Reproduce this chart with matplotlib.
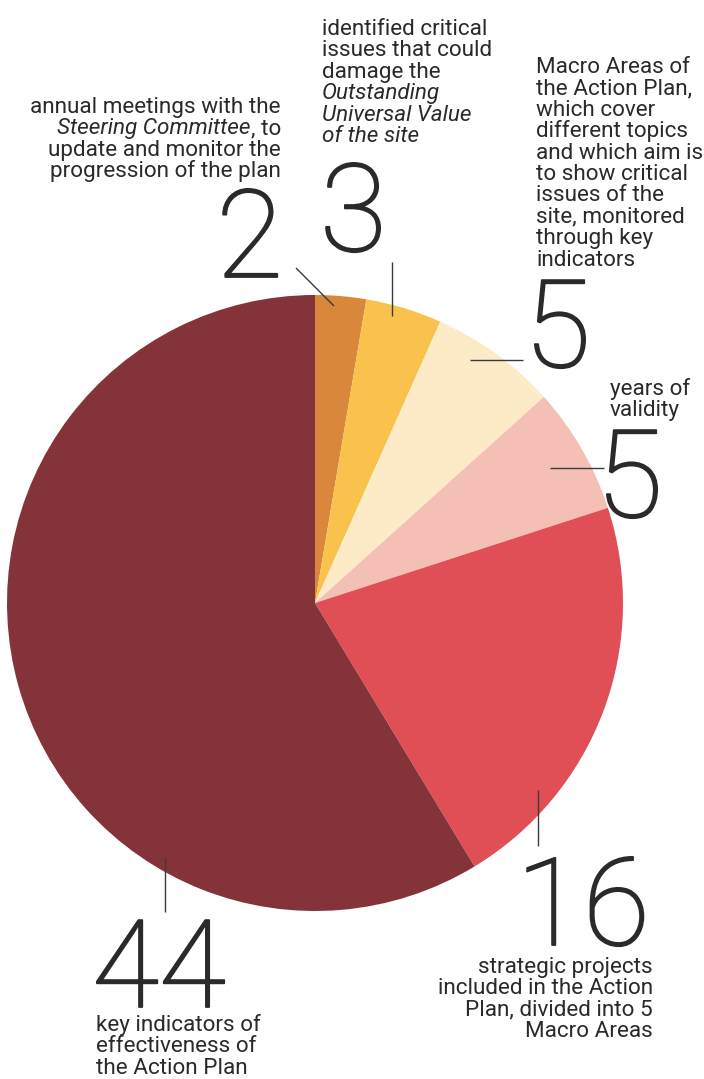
"""Action Plan in numbers: pie of the key figures with big numeric callouts."""
import numpy as np
import matplotlib
matplotlib.use("Agg")
import matplotlib.pyplot as plt
import matplotlib.patheffects as pe

W, H = 704, 1079

# Data
values = [2, 3, 5, 5, 16, 44]
colors = ["#D8873B", "#F8C24D", "#FDEAC6", "#F4BFB5", "#E04F55", "#843439"]

# Each label line is a list of (text, italic) segments.
captions = [
    [[("annual meetings with the", False)],
     [("Steering Committee", True), (", to", False)],
     [("update and monitor the", False)],
     [("progression of the plan", False)]],
    [[("identified critical", False)],
     [("issues that could", False)],
     [("damage the", False)],
     [("Outstanding", True)],
     [("Universal Value", True)],
     [("of the site", True)]],
    [[("Macro Areas of", False)], [("the Action Plan,", False)],
     [("which cover", False)], [("different topics", False)],
     [("and which aim is", False)], [("to show critical", False)],
     [("issues of the", False)], [("site, monitored", False)],
     [("through key", False)], [("indicators", False)]],
    [[("years of", False)], [("validity", False)]],
    [[("strategic projects", False)], [("included in the Action", False)],
     [("Plan, divided into 5", False)], [("Macro Areas", False)]],
    [[("key indicators of", False)], [("effectiveness of", False)],
     [("the Action Plan", False)]],
]

# Layout (pixel coords, y from top)
CX, CY, R = 315, 603, 308
TXT = "#2B2A29"
LINE = "#3A3A3A"
BODY = ["Roboto", "DejaVu Sans"]
NUM = ["Roboto", "DejaVu Sans"]
NUM_SIZE = 88
BODY_SIZE = 16.2
LEAD = 21.4
# number anchor (x, baseline, ha)
num_pos = [(283, 277, "right"), (320, 251, "left"), (524, 367, "left"),
           (596, 517, "left"), (516, 945, "left"), (92, 1007, "left")]
# caption anchor (x, first baseline, ha)
cap_pos = [(281, 113, "right"), (322, 35, "left"), (536, 73, "left"),
           (610, 395, "left"), (653, 973, "right"), (96, 1031, "left")]
# leader lines: (x0, y0, x1, y1)
leaders = [(296, 268, 334, 306), (392, 262, 392, 316), (470, 360, 523, 360),
           (550, 468, 604, 468), (538, 790, 538, 846), (165, 857, 165, 912)]


def Y(y):
    return H - y


fig = plt.figure(figsize=(W / 100, H / 100), dpi=100)
ax = fig.add_axes([0, 0, 1, 1])
ax.pie(values, colors=colors, startangle=90, counterclock=False,
       center=(CX, Y(CY)), radius=R, wedgeprops=dict(linewidth=0))
ax.set_xlim(0, W)
ax.set_ylim(0, H)
ax.set_aspect("equal")
ax.axis("off")

for (x0, y0, x1, y1) in leaders:
    ax.plot([x0, x1], [Y(y0), Y(y1)], color=LINE, lw=1.0, solid_capstyle="butt")

# big numbers: Roboto Light, slightly thickened to match the reference weight
for v, (x, y, ha) in zip(values, num_pos):
    ax.text(x, Y(y), str(v), ha=ha, va="baseline", fontsize=NUM_SIZE,
            family=NUM, fontweight="light", color=TXT,
            path_effects=[pe.withStroke(linewidth=1.3, foreground=TXT)])

fig.canvas.draw()
renderer = fig.canvas.get_renderer()


def seg_width(t):
    bb = t.get_window_extent(renderer=renderer)
    return bb.width


for lines, (x, y0, ha) in zip(captions, cap_pos):
    for i, segs in enumerate(lines):
        yb = Y(y0 + i * LEAD)
        order = segs if ha == "left" else list(reversed(segs))
        cx = x
        for text, ital in order:
            t = ax.text(cx, yb, text, ha=ha, va="baseline", fontsize=BODY_SIZE,
                        family=BODY, style="italic" if ital else "normal",
                        color=TXT)
            w = seg_width(t)
            cx = cx + w if ha == "left" else cx - w

fig.savefig("out.png", dpi=100)
